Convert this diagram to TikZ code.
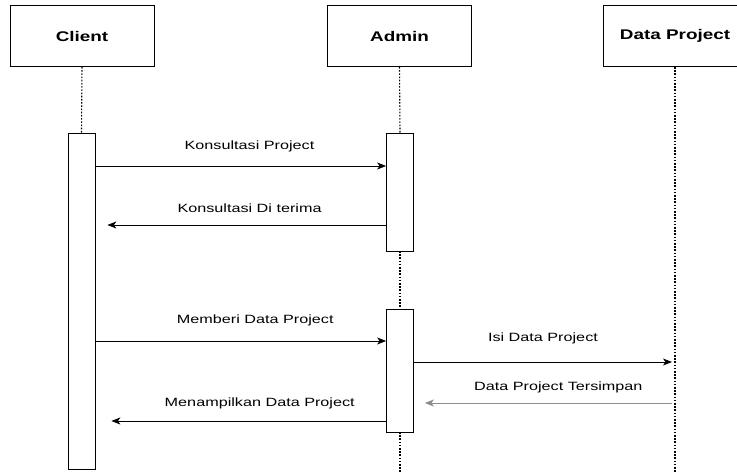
\documentclass[tikz,border=0pt]{standalone}
\usepackage{fontspec}
\setmainfont[FakeStretch=1.35]{Liberation Sans}
\usepackage{tikz}
\usetikzlibrary{arrows.meta}

\begin{document}
\begin{tikzpicture}
	[x=1pt, y=-1pt,
	actor/.style = {draw, thick, minimum width=144pt, minimum height=61pt, font=\fontsize{14}{16}\selectfont\bfseries},
	bar/.style = {draw, thick, fill=white, inner sep=0pt, minimum width=27pt},
	life/.style = {line width=1.1pt, dash pattern=on 1.6pt off 1.6pt},
	msg/.style = {thick, -{Stealth[length=9pt,width=7pt,inset=2.5pt]}},
	lbl/.style = {font=\fontsize{12}{14}\selectfont, inner sep=0pt}]
	\useasboundingbox (0,0) rectangle (737,472);
	\clip (0,0) rectangle (737,472);
	\node[actor] (client) at (82,36) {Client};
	\node[actor] (admin) at (399.5,36) {Admin};
	\node[actor] (data) at (675,36) {Data Project};
	\coordinate (aend) at (400,472);
	\coordinate (dend) at (675,472);
	% lifelines
	\draw[life] (client.south) -- (81.5,133);
	\draw[life] (admin.south) -- (400,133);
	\draw[life] (400,251) -- (400,309);
	\draw[life] (400,432) -- (aend);
	\draw[life] (data.south) -- (dend);
	% activations
	\node[bar, minimum height=336pt] (cbar) at (81.5,301) {};
	\node[bar, minimum height=118pt] (abar1) at (400,192) {};
	\node[bar, minimum height=123pt] (abar2) at (400,370.5) {};
	% messages
	\draw[msg] (cbar.east |- 0,166) -- node[lbl, pos=.53, yshift=20pt] {Konsultasi Project} (abar1.west |- 0,166);
	\draw[msg] (abar1.west |- 0,225) -- node[lbl, pos=.49, yshift=17pt] {Konsultasi Di terima} ([xshift=12pt]cbar.east |- 0,225);
	\draw[msg] (cbar.east |- 0,341) -- node[lbl, pos=.55, yshift=21pt] {Memberi Data Project} (abar2.west |- 0,341);
	\draw[msg] (abar2.east |- 0,362) -- node[lbl, pos=.5, yshift=24pt] {Isi Data Project} ([xshift=-3pt]data.south |- 0,362);
	\draw[msg, black!45] ([xshift=-3pt]data.south |- 0,403) -- node[lbl, black, pos=.46, yshift=16pt] {Data Project Tersimpan} ([xshift=11pt]abar2.east |- 0,403);
	\draw[msg] (abar2.west |- 0,421) -- node[lbl, pos=.46, yshift=18pt] {Menampilkan Data Project} ([xshift=16pt]cbar.east |- 0,421);
\end{tikzpicture}
\end{document}
